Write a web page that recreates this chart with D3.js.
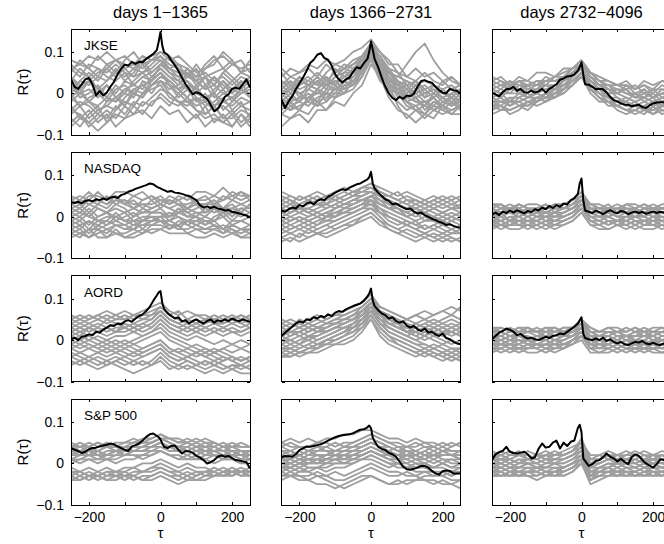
<!DOCTYPE html>
<html><head><meta charset="utf-8">
<script src="https://cdn.jsdelivr.net/npm/d3@7"></script>
<style>body{margin:0;background:#fff}text{font-family:"Liberation Sans",Arial,Helvetica,sans-serif;fill:#000}</style>
</head><body><svg id="c" width="664" height="544"></svg>
<script>
// ---------- data ----------
const indexNames = ["JKSE", "NASDAQ", "AORD", "S&P 500"];
const periodTitles = ["days 1\u22121365", "days 1366\u22122731", "days 2732\u22124096"];
const xTickMarks = [-200, -100, 0, 100, 200];
const xTickLabels = [-200, 0, 200];
const yTicks = [-0.1, 0, 0.1];
// lags of the black (real index) curves
const tauBlack = [-250,-240,-230,-220,-210,-200,-190,-180,-170,-160,-150,-140,-130,-120,-110,-100,-90,-80,-70,-60,-50,-40,-30,-20,-10,-5,0,5,10,20,30,40,50,60,70,80,90,100,110,120,130,140,150,160,170,180,190,200,210,220,230,240,250];
// lags of the grey (other indices) curves
const tauGray = [-250,-225,-200,-175,-150,-125,-100,-75,-50,-25,0,25,50,75,100,125,150,175,200,225,250];

const bJKSE1 = [0.034,0.016,0.011,0.022,0.034,0.037,0.022,-0.005,0.006,-0.005,0.002,0.016,0.028,0.046,0.059,0.069,0.067,0.076,0.071,0.076,0.075,0.083,0.089,0.095,0.105,0.125,0.148,0.115,0.099,0.093,0.079,0.068,0.054,0.038,0.022,0.010,-0.002,0.003,0.000,-0.007,-0.013,-0.027,-0.043,-0.037,-0.023,-0.008,-0.002,0.011,0.014,0.011,0.022,0.034,0.014];
const bJKSE2 = [-0.015,-0.035,-0.019,-0.007,0.010,0.024,0.038,0.054,0.073,0.081,0.093,0.097,0.085,0.081,0.067,0.046,0.034,0.026,0.034,0.038,0.052,0.063,0.060,0.073,0.083,0.100,0.125,0.105,0.083,0.063,0.038,0.016,0.000,-0.011,-0.016,-0.008,-0.013,-0.005,-0.007,0.000,0.016,0.030,0.032,0.028,0.026,0.016,0.008,0.002,0.000,0.011,0.008,0.006,0.000];
const bJKSE3 = [0.002,-0.002,-0.007,0.003,0.010,0.011,0.016,0.006,0.011,0.003,0.002,0.007,0.002,0.005,0.011,0.002,0.011,0.016,0.022,0.033,0.036,0.041,0.042,0.046,0.055,0.063,0.075,0.045,0.022,0.021,0.016,0.010,0.011,0.010,0.002,-0.008,-0.016,-0.019,-0.024,-0.027,-0.027,-0.031,-0.029,-0.027,-0.033,-0.035,-0.029,-0.024,-0.022,-0.021,-0.021,-0.020,-0.020];
const bNASDAQ1 = [0.035,0.033,0.036,0.032,0.038,0.040,0.037,0.042,0.040,0.044,0.041,0.046,0.048,0.045,0.052,0.055,0.060,0.063,0.067,0.070,0.073,0.076,0.080,0.078,0.072,0.070,0.068,0.066,0.064,0.060,0.062,0.058,0.057,0.055,0.052,0.050,0.045,0.040,0.028,0.022,0.025,0.021,0.024,0.020,0.018,0.015,0.016,0.012,0.010,0.008,0.005,0.003,-0.002];
const bNASDAQ2 = [0.015,0.012,0.018,0.022,0.020,0.028,0.025,0.032,0.035,0.030,0.038,0.042,0.040,0.048,0.052,0.058,0.062,0.066,0.064,0.070,0.074,0.078,0.080,0.085,0.090,0.095,0.108,0.080,0.068,0.058,0.050,0.042,0.038,0.030,0.032,0.026,0.022,0.018,0.020,0.012,0.008,0.010,0.004,0.000,-0.005,-0.008,-0.012,-0.015,-0.020,-0.018,-0.022,-0.025,-0.026];
const bNASDAQ3 = [0.005,0.010,0.004,0.012,0.009,0.015,0.010,0.016,0.012,0.008,0.014,0.011,0.018,0.015,0.022,0.018,0.026,0.021,0.028,0.024,0.032,0.029,0.040,0.045,0.055,0.080,0.092,0.040,0.015,0.012,0.009,0.015,0.011,0.006,0.012,0.016,0.011,0.008,0.014,0.012,0.006,0.010,0.013,0.009,0.012,0.007,0.010,0.013,0.009,0.012,0.010,0.007,0.008];
const bAORD1 = [0.002,0.006,0.000,0.008,0.010,0.014,0.012,0.020,0.018,0.025,0.030,0.036,0.034,0.040,0.038,0.045,0.048,0.044,0.052,0.058,0.062,0.070,0.080,0.095,0.108,0.115,0.118,0.090,0.075,0.065,0.058,0.052,0.055,0.045,0.048,0.040,0.046,0.050,0.044,0.040,0.046,0.050,0.042,0.048,0.045,0.050,0.046,0.052,0.048,0.045,0.050,0.047,0.044];
const bAORD2 = [0.010,0.018,0.025,0.032,0.040,0.045,0.042,0.050,0.048,0.055,0.052,0.058,0.055,0.062,0.058,0.066,0.070,0.068,0.074,0.078,0.082,0.085,0.088,0.095,0.105,0.112,0.124,0.095,0.082,0.072,0.064,0.060,0.052,0.055,0.046,0.042,0.045,0.035,0.030,0.034,0.026,0.022,0.028,0.018,0.020,0.014,0.010,0.016,0.005,0.002,-0.004,-0.008,-0.010];
const bAORD3 = [0.002,0.010,0.018,0.022,0.028,0.025,0.020,0.012,0.015,0.008,0.004,0.006,0.002,0.000,0.004,0.008,0.005,0.010,0.012,0.016,0.014,0.020,0.026,0.032,0.040,0.048,0.055,0.015,0.005,0.002,0.000,0.004,0.000,0.006,-0.002,0.002,-0.004,-0.008,-0.004,-0.010,-0.012,-0.008,-0.004,-0.006,-0.002,-0.008,-0.010,-0.006,-0.010,-0.012,-0.008,-0.010,-0.012];
const bSP1 = [0.037,0.033,0.030,0.025,0.028,0.034,0.037,0.038,0.041,0.043,0.045,0.048,0.046,0.041,0.037,0.033,0.030,0.041,0.044,0.048,0.055,0.064,0.070,0.072,0.066,0.063,0.058,0.048,0.040,0.037,0.042,0.043,0.033,0.024,0.030,0.029,0.026,0.018,0.014,0.008,0.000,0.003,0.008,0.016,0.019,0.016,0.018,0.013,0.008,0.007,0.005,0.003,-0.012];
const bSP2 = [0.015,0.018,0.017,0.016,0.022,0.032,0.036,0.041,0.040,0.042,0.044,0.046,0.050,0.055,0.059,0.063,0.066,0.068,0.069,0.070,0.073,0.077,0.081,0.082,0.087,0.091,0.085,0.062,0.053,0.040,0.035,0.032,0.025,0.022,0.016,0.004,-0.008,-0.014,-0.015,-0.013,-0.010,-0.006,-0.006,-0.010,-0.018,-0.024,-0.027,-0.019,-0.017,-0.018,-0.024,-0.024,-0.024];
const bSP3 = [0.008,0.022,0.027,0.030,0.040,0.028,0.025,0.024,0.026,0.028,0.022,0.012,0.015,0.035,0.048,0.038,0.040,0.050,0.055,0.036,0.050,0.042,0.052,0.055,0.086,0.093,0.075,0.012,0.006,-0.006,-0.002,0.006,0.008,0.015,0.024,0.016,0.012,0.005,0.011,0.004,-0.002,0.015,0.022,0.018,0.008,0.000,-0.005,-0.010,-0.002,0.010,0.008,0.010,0.006];

// grey curves, values in units of 0.01
const gJKSE1 = [
[6,7,9,8,10,8,7,6,8,9,10,8,9,7,5,6,8,9,7,6,7],[4,2,3,5,6,4,6,7,9,8,10,9,7,6,4,5,3,4,2,4,3],
[1,3,2,4,3,5,4,6,5,7,9,7,6,4,3,1,2,0,1,3,2],[-2,0,1,-1,2,0,3,2,4,5,7,6,4,3,1,-1,0,-2,-1,1,-1],
[-5,-3,-6,-4,-3,-1,-3,0,-1,2,4,3,1,-1,-3,-2,-4,-3,-5,-3,-2],[-7,-5,-8,-6,-4,-6,-3,-5,-2,-3,0,-2,-3,-1,-4,-6,-5,-7,-5,-8,-6],
[2,0,3,1,-1,2,0,3,5,3,7,5,3,6,4,7,9,6,8,5,4],[7,5,4,6,4,3,5,2,4,3,5,2,1,3,0,2,-1,1,-2,0,1],
[-3,-6,-4,-7,-5,-8,-6,-3,-5,-2,-1,-3,0,2,1,4,2,5,3,1,3],[0,3,5,3,6,8,9,7,6,8,8,5,4,6,3,1,4,2,0,3,-1],
[-1,1,-2,0,2,-1,1,0,-1,2,3,1,2,4,3,6,7,10,8,5,8],[4,1,3,0,2,-1,-2,-3,0,2,3,0,-2,-3,-1,-5,-3,-6,-4,-7,-5],
[-6,-8,-5,-3,-7,-4,-2,-3,0,1,2,-1,-2,-4,-6,-3,-7,-5,-8,-5,-8],[8,7,6,4,7,5,8,10,7,8,9,6,7,4,6,2,4,1,3,5,6],
[0,-3,-2,-4,-3,-4,-1,1,0,3,5,3,1,2,-1,-2,0,-4,-2,1,0],[3,6,4,1,3,6,3,5,8,5,7,9,6,4,7,4,2,5,7,8,5],
[-4,-2,-3,-5,-2,-1,-3,1,2,0,3,2,-1,1,-2,0,-3,-1,-4,-2,-6],[-8,-6,-7,-9,-7,-5,-6,-5,-4,-6,-3,-5,-4,-7,-5,-8,-6,-7,-8,-5,-7],
[5,8,6,9,7,8,6,4,7,4,6,4,2,5,2,4,0,3,1,0,2],[2,-1,0,2,-1,-2,0,-1,3,2,4,3,1,-1,2,-2,1,3,0,2,3],
[-4,-5,-7,-5,-6,-3,-5,-2,-3,-1,1,0,-2,-2,-4,-5,-3,-6,-6,-4,-5],[1,0,-2,-3,-1,-2,1,2,1,4,6,4,3,1,0,-1,-3,-2,-3,-1,-2],
[6,4,7,6,5,7,5,4,5,6,8,6,5,5,3,4,5,6,4,2,4],[-1,-3,-1,0,-2,1,2,0,2,3,5,2,0,-2,-1,-3,-2,0,-1,-3,-4]];
const gJKSE2 = [
[4,6,5,7,6,8,7,8,10,11,13,10,8,5,4,3,5,3,2,4,2],[2,0,3,4,2,5,7,6,8,9,12,9,6,5,2,3,1,2,0,1,2],
[0,2,-1,2,4,2,4,6,5,8,11,7,5,2,1,-1,0,1,-1,-2,0],[-2,0,-2,1,0,2,3,3,5,6,10,6,4,0,1,-2,-2,-3,-1,-3,-2],
[-4,-2,-4,-1,-3,0,-1,2,3,5,9,6,2,1,-2,-4,-3,-4,-3,-5,-3],[-5,-6,-4,-5,-2,-4,-1,0,1,4,8,3,1,-2,-4,-3,-5,-3,-4,-5,-5],
[-8,-6,-5,-7,-4,-4,-2,-3,0,2,7,4,-1,-4,-5,-7,-5,-6,-3,-4,-3],[6,4,5,6,4,7,5,6,7,8,12,10,7,7,4,6,4,5,3,4,2],
[1,3,1,2,1,4,2,4,6,7,10,7,3,3,-1,1,-1,2,0,-1,1],[-1,1,0,-2,1,0,3,1,4,7,11,8,4,1,2,-1,-3,0,-2,-1,-4],
[3,1,4,2,4,2,6,4,5,9,12,7,6,2,3,1,2,0,3,1,2],[-3,-1,-2,-3,-1,0,0,3,2,6,9,5,3,2,-2,-1,-4,-2,-3,-1,-3],
[0,-2,-1,-1,1,-2,2,0,3,5,10,6,1,0,-3,-4,-6,-4,-5,-4,-3],[2,4,3,2,3,4,2,5,5,7,10,8,5,4,7,10,12,8,5,3,2],
[-5,-3,-4,-1,-2,1,1,3,4,6,10,5,2,-3,-6,-4,-5,-2,-3,0,-2],[5,2,4,3,2,2,1,3,5,6,11,6,5,3,1,3,0,1,0,1,-1],
[-2,-4,-1,-1,0,0,-1,2,2,5,9,4,3,-1,-1,-2,-3,-1,-4,-2,-4],[1,-1,2,3,5,3,5,7,6,8,11,9,5,4,3,2,3,2,1,2,0],
[3,2,0,1,3,1,4,5,7,9,12,8,6,3,2,0,1,-1,1,-1,1],[-1,-3,-2,0,-2,-1,1,1,2,4,9,5,2,0,-2,-3,-2,-4,-2,-3,-1],
[-3,-4,-3,-2,-3,-2,0,0,3,5,10,6,2,1,-1,0,-2,-1,-3,-1,-2],[0,1,3,2,1,3,2,4,3,6,11,7,4,2,0,2,-1,0,-1,0,1]];
const gJKSE3 = [
[3,4,2,4,3,5,5,4,6,6,8,5,4,3,2,3,1,3,2,3,2],[1,2,1,3,3,2,4,3,4,6,7,4,3,1,0,2,0,1,-1,1,0],
[0,-1,1,1,-1,1,2,1,3,5,6,3,1,1,-1,-2,0,-2,-1,-3,-1],[-2,-1,-3,-1,0,-2,0,1,1,4,6,2,1,-1,-2,-3,-2,-4,-2,-3,-2],
[-3,-4,-2,-2,-3,-1,-2,0,1,3,5,1,-1,-3,-3,-4,-3,-4,-5,-3,-3],[-4,-3,-5,-4,-2,-3,-2,-1,0,2,4,0,-2,-2,-4,-5,-4,-5,-3,-5,-4],
[2,1,3,1,2,3,2,4,4,5,7,4,2,2,1,0,-1,1,-1,0,1],[-1,0,-2,0,-1,0,1,1,3,4,6,3,2,0,0,-1,-2,-1,1,-1,-2],
[4,3,2,3,1,1,3,3,4,6,8,5,3,2,2,2,1,2,1,3,3],[-2,-3,-1,-3,-2,-1,-2,0,2,3,5,2,0,-1,-3,-2,-3,-2,-3,-2,-4],
[1,0,2,0,1,2,2,1,3,5,7,4,2,2,0,1,-1,-1,-2,-1,0],[-3,-2,-2,-2,-1,0,-1,1,2,4,6,3,1,-1,-1,-3,-3,-3,-2,-4,-4],
[3,2,3,2,2,2,3,3,3,5,7,5,3,3,2,1,2,0,1,1,1],[-5,-4,-4,-3,-4,-2,-1,-1,1,3,5,1,-1,-2,-3,-4,-4,-3,-5,-4,-5],
[2,3,1,3,2,3,3,4,5,6,7,5,4,3,2,2,1,2,0,2,1],[-1,-2,-3,-2,-1,-1,0,0,1,3,5,2,0,-1,-2,-1,-2,-1,-2,-2,-3],
[0,1,0,2,1,1,1,2,2,4,6,3,1,0,1,0,0,-1,0,-2,-1],[-2,-2,-1,-1,-2,-2,0,-1,1,2,5,1,-1,-2,-2,-2,-3,-3,-4,-3,-2],
[1,0,0,0,2,0,2,2,3,5,7,4,2,1,1,1,-1,0,-1,0,-1],[-3,-3,-4,-3,-3,-2,-1,0,0,2,4,1,0,-2,-3,-4,-5,-4,-4,-3,-4]];
const gNASDAQ1 = [
[4,5,4,6,4,5,3,5,6,4,5,3,5,4,6,6,5,7,5,6,4],[3,2,4,3,5,3,4,2,4,5,4,3,4,2,4,5,3,5,4,6,5],
[2,3,1,3,2,4,3,2,3,2,3,2,3,1,2,3,4,2,4,3,4],[5,4,6,4,3,5,3,4,2,4,2,4,3,2,3,1,3,2,3,1,3],
[1,2,0,2,1,3,2,0,2,1,2,0,2,1,0,2,1,2,0,2,2],[-1,0,-2,0,1,-1,0,1,-1,1,1,-1,1,0,0,-2,0,1,-1,1,0],
[-2,-1,-3,-1,-2,0,-1,-2,-1,0,-1,-1,0,-2,-1,-2,-1,-3,-1,-1,-2],[-3,-2,-4,-2,-3,-2,-3,-3,-2,-1,-1,-3,-1,-2,-3,-3,-2,-4,-2,-3,-3],
[-4,-3,-5,-4,-3,-4,-4,-3,-4,-2,-2,-3,-2,-4,-3,-4,-3,-4,-3,-5,-4],[-5,-4,-5,-3,-5,-4,-5,-5,-4,-3,-3,-4,-4,-4,-5,-5,-4,-5,-4,-5,-5],
[0,-1,1,-1,-1,1,-1,0,1,1,1,0,2,0,1,0,2,0,1,2,1],[-2,-3,-1,-3,-2,-1,-2,-1,-3,-1,0,-2,-2,-1,-2,-1,-2,-3,-2,-3,-2],
[1,0,2,0,1,0,1,-1,-1,0,-1,-1,-2,-1,-2,-3,-2,-3,-4,-3,-4],[-4,-5,-3,-3,-4,-2,-2,-3,-1,-1,0,0,1,2,3,3,3,4,5,4,5],
[4,3,5,5,4,6,6,5,4,5,3,5,4,5,3,3,4,2,2,3,2],[-3,-4,-3,-5,-5,-3,-5,-4,-3,-4,-3,-2,-3,-1,-1,0,-1,1,1,0,1],
[3,4,3,4,3,4,4,3,3,3,4,4,3,3,4,4,5,4,6,5,5],[2,1,3,2,1,2,1,2,1,2,3,2,1,2,1,1,2,1,2,1,3],
[-1,-2,-1,-2,-1,-2,-3,-2,-2,-2,-1,-2,-3,-3,-2,-3,-3,-2,-3,-4,-3],[0,1,0,-1,0,0,-1,-1,0,0,0,1,0,-1,0,-1,-1,0,-2,-1,0]];
const gNASDAQ2 = [
[4,5,4,5,6,5,6,7,6,7,8,7,6,5,6,5,4,5,4,5,4],[2,3,2,3,4,5,4,5,6,6,7,6,5,4,3,4,3,2,3,2,3],
[1,0,1,2,1,2,3,4,5,5,6,5,3,2,1,2,1,0,1,0,1],[-1,0,-1,0,1,0,2,3,3,4,5,3,2,1,0,-1,0,-1,-2,-1,-2],
[-3,-2,-3,-2,-1,0,1,1,2,3,4,2,0,-1,-2,-3,-2,-3,-4,-3,-4],[-5,-4,-5,-3,-4,-3,-2,-1,0,1,2,0,-2,-3,-4,-5,-4,-5,-6,-5,-6],
[-6,-5,-6,-5,-4,-5,-4,-3,-2,-1,0,-2,-3,-4,-5,-6,-5,-6,-5,-6,-5],[3,2,3,4,3,4,5,4,5,6,6,5,4,3,4,3,4,3,4,3,4],
[0,1,2,1,2,3,2,3,4,4,5,4,3,2,1,0,1,0,-1,0,-1],[-2,-1,0,-1,0,-1,0,1,2,3,3,2,1,0,-1,-2,-3,-2,-3,-4,-3],
[5,4,3,4,3,2,3,2,3,4,4,3,2,3,2,3,2,3,2,3,2],[-4,-3,-2,-3,-2,-1,-1,0,1,2,3,1,-1,-2,-1,-2,-1,0,-1,0,-1],
[1,2,1,0,1,0,1,2,3,4,5,6,5,4,5,4,3,4,5,4,5],[-1,-2,-1,-2,-3,-2,-1,0,1,2,2,1,0,-1,-2,-3,-4,-5,-4,-5,-6],
[2,1,2,1,0,1,2,3,4,5,6,4,2,1,0,1,2,1,0,1,0],[-3,-4,-3,-4,-3,-2,-3,-2,-1,0,1,-1,-2,-3,-2,-3,-4,-3,-2,-3,-2],
[6,5,4,5,4,5,4,5,6,7,8,6,5,4,3,2,3,2,1,2,1],[4,3,5,4,5,3,5,6,5,7,7,5,5,6,4,4,3,4,3,4,2],
[-2,-3,-2,-1,-2,0,0,1,1,2,4,1,0,-1,-2,-1,-3,-2,-1,-2,-3],[0,-1,0,-1,0,1,0,2,2,3,5,3,2,2,0,1,-1,-1,0,-1,0],
[-5,-6,-4,-5,-4,-4,-3,-2,-2,0,1,-1,-3,-4,-3,-4,-5,-4,-5,-4,-4],[3,4,2,2,3,3,4,3,4,5,6,5,3,3,2,2,1,2,1,2,2]];
const gNASDAQ3 = [
[2,3,1,3,2,2,3,1,3,4,6,3,2,3,1,3,2,3,2,2,3],[1,2,2,1,1,2,1,2,2,3,5,2,1,1,2,1,2,1,1,2,1],
[0,1,-1,1,0,1,1,0,1,2,4,1,0,1,0,0,1,0,1,0,0],[-1,0,-1,-1,0,-1,0,-1,0,1,3,0,-1,0,-1,0,-1,-1,0,-1,-1],
[-2,-1,-2,-1,-2,-2,-1,-2,-1,0,2,-1,-2,-1,-2,-1,-2,-1,-2,-2,-1],[-3,-2,-3,-3,-2,-3,-2,-3,-2,-1,1,-2,-3,-3,-2,-3,-2,-3,-3,-2,-3],
[2,1,2,2,1,2,2,3,2,3,5,2,1,0,1,1,0,1,0,1,1],[-1,-2,-1,-2,-1,-1,-2,-1,0,1,2,0,0,-1,-1,-2,-1,-2,-1,-2,-2],
[1,0,1,1,0,1,0,1,1,2,4,1,1,0,1,2,1,2,2,1,2],[0,-1,0,-1,-1,0,-1,0,0,1,3,0,-1,-2,-1,-1,0,-1,0,-1,0],
[3,2,3,2,3,3,2,3,3,4,5,3,2,2,3,2,2,3,2,3,3],[-2,-3,-2,-2,-3,-2,-3,-2,-1,0,2,-1,-2,-3,-2,-2,-3,-2,-2,-3,-2],
[1,2,1,0,1,0,1,1,2,2,4,2,2,1,0,1,1,0,1,1,0],[-1,-1,0,0,-1,-1,0,0,1,2,3,1,0,1,0,-1,0,0,-1,0,-1],
[2,1,2,3,2,1,2,2,2,3,5,2,2,1,2,2,1,2,1,1,2],[0,0,-1,0,1,0,0,1,0,1,3,1,0,0,-1,0,0,1,0,0,-1],
[-1,-2,-2,-1,-1,-2,-1,-1,-1,0,2,-1,-1,-2,-1,-1,-2,-1,-1,-1,-2],[1,1,2,1,2,1,1,2,2,3,4,1,1,2,2,1,2,1,2,2,1],
[-2,-2,-1,-2,-2,-1,-2,-2,-2,-1,1,-2,-2,-1,-2,-2,-1,-2,-2,-1,-2],[3,3,2,3,2,2,3,2,2,3,4,3,3,2,2,3,3,2,3,2,2]];
const gAORD1 = [
[5,6,5,6,7,6,7,6,7,8,9,7,6,7,6,5,6,5,6,5,6],[4,5,4,5,4,5,5,6,5,6,8,6,5,4,5,4,5,4,5,4,5],
[3,4,3,4,3,4,4,3,4,5,7,5,4,3,4,3,4,3,4,3,4],[2,3,2,3,2,3,3,4,3,4,6,4,3,2,3,2,3,2,3,2,3],
[6,5,6,5,6,5,6,5,6,6,7,5,4,5,4,5,4,5,4,5,4],[1,2,1,2,1,2,2,3,2,3,5,3,2,1,2,1,2,1,2,1,2],
[0,-1,0,-1,-2,-1,-2,-1,-2,-1,0,-2,-3,-2,-3,-4,-3,-4,-5,-4,-5],[-2,-3,-2,-3,-2,-3,-4,-3,-4,-3,-2,-4,-5,-4,-5,-6,-5,-6,-7,-6,-7],
[-3,-4,-5,-4,-5,-4,-5,-6,-5,-6,-4,-6,-7,-6,-7,-8,-7,-8,-7,-8,-8],[-1,0,-1,-2,-1,-2,-1,-2,-3,-2,-1,-3,-4,-5,-6,-5,-6,-7,-6,-7,-6],
[-4,-3,-4,-3,-4,-3,-2,-3,-2,-1,0,-2,-3,-4,-3,-4,-5,-4,-5,-6,-5],[-5,-6,-5,-6,-5,-6,-7,-8,-7,-6,-5,-7,-6,-7,-6,-5,-6,-5,-4,-5,-4],
[-6,-5,-6,-7,-6,-5,-4,-5,-4,-3,-2,-4,-5,-4,-3,-2,-3,-2,-3,-2,-3],[1,0,1,0,-1,0,-1,0,1,2,3,1,0,-1,-2,-3,-2,-3,-4,-5,-4],
[3,2,3,2,3,2,3,2,3,4,6,4,3,4,3,4,5,4,5,6,5],[-2,-1,-2,-1,0,-1,0,-1,0,1,2,0,-1,-2,-1,-2,-3,-2,-1,-2,-1],
[5,4,5,6,5,6,5,6,6,7,8,6,7,5,6,6,5,6,5,6,5],[2,1,3,2,3,2,4,3,4,3,5,3,2,3,2,3,2,3,2,2,3],
[-1,-2,-1,-2,-3,-2,-3,-4,-3,-2,-1,-3,-2,-3,-4,-3,-4,-5,-4,-5,-4],[-4,-5,-4,-5,-6,-5,-6,-5,-6,-5,-3,-5,-6,-5,-6,-7,-6,-7,-6,-6,-7],
[0,1,0,1,0,1,1,2,1,2,4,2,1,0,1,0,-1,0,-1,0,-1],[4,3,4,3,5,4,3,4,5,5,7,5,4,5,4,5,4,4,5,4,3]];
const gAORD2 = [
[4,5,4,5,6,5,6,7,8,9,11,8,7,6,5,6,5,6,7,8,7],[3,2,3,4,3,4,5,6,7,8,10,7,6,5,4,3,4,3,4,3,4],
[1,2,1,2,3,3,4,5,6,7,9,6,5,4,3,2,3,2,1,2,1],[0,-1,0,1,1,2,3,4,5,6,8,5,4,3,2,1,0,1,0,-1,0],
[-2,-1,-2,-1,0,1,2,3,4,5,7,4,2,1,0,-1,-2,-1,-2,-3,-2],[-3,-4,-3,-2,-1,0,1,2,3,4,6,3,1,0,-1,-2,-3,-4,-3,-4,-5],
[-4,-3,-4,-3,-2,-1,-1,0,1,3,5,2,0,-1,-2,-3,-4,-3,-4,-5,-4],[2,3,4,3,4,5,6,6,7,8,10,8,7,6,5,4,5,4,3,4,3],
[-1,0,1,0,1,2,3,3,4,6,8,5,3,2,1,0,-1,-2,-1,-2,-3],[5,4,3,4,3,4,4,5,6,7,9,6,4,3,2,1,2,1,2,1,2],
[-2,-3,-2,-1,-2,0,1,2,3,5,7,4,3,2,1,2,1,2,1,0,-1],[1,0,-1,0,-1,0,1,2,4,5,7,5,4,3,2,3,2,3,2,3,2],
[0,1,2,1,2,3,4,4,5,6,9,6,5,4,5,6,7,6,7,6,8],[-3,-2,-1,-2,-1,-1,0,1,2,4,6,3,1,-1,-2,-3,-2,-3,-4,-3,-4],
[3,4,3,2,3,2,3,4,5,7,9,6,5,4,3,4,3,4,5,6,5],[-1,-2,-3,-2,-1,0,0,1,3,4,7,4,2,1,0,-1,-1,-2,-3,-2,-2],
[2,1,2,3,2,3,4,5,5,7,9,6,4,4,2,2,1,3,2,2,1],[-2,-2,-3,-2,-2,-1,0,1,2,3,6,3,1,0,-1,-2,-3,-2,-3,-4,-3],
[4,3,5,4,5,4,5,5,6,8,10,7,6,4,4,3,4,5,4,5,4],[0,0,-1,1,0,1,2,3,3,5,8,5,3,2,1,0,1,0,-1,0,-1],
[-4,-4,-3,-3,-3,-2,-1,-1,0,2,5,1,-1,-2,-3,-4,-3,-4,-5,-4,-5],[1,2,2,3,2,2,3,4,5,6,8,6,4,3,3,4,3,2,3,2,3]];
const gAORD3 = [
[2,3,2,3,2,2,3,2,3,3,5,2,2,3,2,2,3,2,2,3,2],[1,2,1,1,2,1,2,1,2,3,4,1,1,2,1,1,2,1,2,1,1],
[0,1,0,1,0,0,1,0,1,2,3,0,0,1,0,1,0,0,1,0,0],[-1,0,-1,0,-1,-1,0,-1,0,1,2,-1,-1,0,-1,0,-1,-1,0,-1,-1],
[-2,-1,-2,-2,-1,-2,-1,-2,-1,0,1,-2,-2,-1,-2,-1,-2,-2,-1,-2,-2],[-3,-2,-3,-2,-3,-3,-2,-3,-2,-1,0,-3,-3,-2,-3,-2,-3,-2,-3,-3,-3],
[2,1,2,2,3,2,2,3,2,3,4,2,1,1,2,1,1,2,1,2,2],[0,-1,0,-1,0,-1,-1,0,0,1,3,0,-1,-1,0,-1,-1,0,-1,0,-1],
[1,1,0,1,1,0,1,1,2,2,4,1,0,0,1,0,1,1,0,1,1],[-1,-2,-1,-1,-2,-1,-2,-1,-1,0,2,-1,-2,-2,-1,-2,-1,-2,-2,-1,-2],
[3,2,3,2,2,3,2,2,3,3,5,3,2,2,2,3,2,3,2,2,3],[-2,-3,-2,-3,-2,-2,-3,-2,-2,-1,1,-2,-3,-3,-2,-3,-2,-3,-2,-3,-2],
[0,0,1,0,0,1,0,1,1,1,3,1,0,0,-1,0,0,-1,0,0,0],[-1,-1,-2,-1,0,-1,-1,0,-1,0,2,0,-1,-1,-2,-1,0,-1,-1,-2,-1],
[2,2,1,2,3,2,1,2,2,2,4,2,1,2,2,1,2,2,1,2,1],[0,-1,0,0,-1,0,0,-1,0,1,2,-1,0,-1,0,-1,0,-1,-1,0,-1],
[-2,-2,-1,-2,-2,-1,-2,-2,-1,-1,1,-2,-1,-2,-1,-2,-2,-1,-2,-2,-1],[1,0,1,1,0,1,1,0,1,2,3,0,1,1,0,1,0,1,1,0,1],
[-1,-1,-1,-2,-1,-2,-1,-1,-2,0,1,-1,-2,-1,-2,-1,-1,-2,-1,-2,-2],[3,3,2,3,3,2,3,3,2,3,4,3,2,3,3,2,3,2,3,3,2]];
const gSP1 = [
[4,5,4,5,4,5,5,6,5,6,7,6,5,6,5,6,5,4,5,4,4],[3,4,3,4,4,3,4,4,5,5,6,5,4,5,4,5,4,5,4,3,3],
[2,3,3,2,3,3,4,3,4,4,5,4,4,3,4,3,4,3,3,2,3],[1,2,2,1,2,2,3,3,3,3,4,3,3,2,3,2,3,2,2,1,2],
[0,1,1,0,1,1,2,2,2,3,3,2,2,1,2,1,2,1,1,0,1],[3,2,3,3,2,3,2,3,3,4,5,4,3,4,3,4,3,4,3,3,2],
[5,4,5,4,5,4,4,5,6,6,7,6,6,5,6,5,5,4,4,5,4],[1,1,2,2,1,2,2,2,1,2,3,2,1,2,1,2,2,1,2,1,1],
[-1,-2,-1,-2,-1,-2,-1,-1,0,0,1,0,-1,0,-1,-1,-2,-1,-2,-1,-2],[-3,-2,-3,-2,-3,-2,-2,-3,-2,-1,-1,-2,-3,-2,-3,-2,-2,-3,-2,-2,-2],
[-4,-3,-4,-3,-4,-4,-3,-4,-3,-3,-2,-3,-4,-3,-4,-3,-3,-2,-3,-2,-3],[-2,-3,-2,-3,-2,-3,-4,-3,-4,-4,-3,-4,-5,-4,-3,-2,-1,-2,-1,-2,-1],
[-3,-4,-3,-4,-3,-3,-2,-1,-2,-1,0,-1,-2,-1,-2,-3,-2,-3,-2,-3,-2],[2,3,2,3,2,3,3,4,4,5,6,5,4,3,4,3,3,2,3,2,2],
[4,3,4,3,4,4,3,4,4,5,6,6,5,5,4,4,5,4,4,3,3],[3,3,2,3,4,3,3,3,3,4,5,4,3,4,3,3,3,3,2,3,2],
[2,2,3,2,2,3,2,3,3,4,4,3,3,3,2,3,2,2,2,2,1],[4,4,4,5,4,4,5,5,5,5,6,5,4,4,5,4,4,3,4,4,4],
[1,0,1,1,1,0,1,1,2,2,3,2,1,1,1,1,0,1,1,0,0],[-2,-2,-3,-3,-2,-2,-3,-2,-2,-2,-1,-2,-2,-3,-2,-2,-3,-2,-2,-3,-3],
[-4,-4,-3,-3,-4,-3,-3,-3,-4,-3,-2,-3,-3,-4,-4,-4,-3,-3,-3,-2,-3]];
const gSP2 = [
[5,6,5,6,5,6,6,7,7,8,8,7,6,6,5,6,5,5,4,5,4],[4,3,4,3,4,4,5,4,5,6,7,6,5,5,4,4,5,4,5,4,5],
[2,3,2,3,3,4,3,4,4,5,6,5,4,3,3,2,3,2,3,2,3],[1,2,1,2,2,2,3,3,3,4,5,4,3,2,2,1,1,2,1,1,0],
[0,1,0,1,1,1,2,2,2,3,4,3,2,1,1,0,0,-1,0,-1,-1],[-1,0,-1,0,0,0,1,1,1,2,3,2,1,0,0,-1,-1,-2,-2,-3,-2],
[-2,-1,-2,-1,-1,-1,0,0,0,1,2,1,0,-1,-1,-2,-2,-3,-3,-4,-4],[-3,-2,-3,-3,-2,-3,-2,-3,-2,-1,0,-1,-2,-2,-3,-3,-4,-4,-5,-5,-4],
[-4,-3,-4,-4,-5,-5,-6,-5,-4,-3,-3,-4,-5,-4,-5,-4,-4,-5,-4,-5,-6],[3,2,3,2,3,3,2,3,3,4,5,4,3,4,3,3,4,3,4,3,3],
[1,0,1,0,0,1,1,2,1,2,3,2,2,1,2,1,2,1,2,2,1],[-1,-2,-1,-2,-1,-2,-1,-1,0,1,1,0,-1,0,-1,-1,0,-1,0,-1,0],
[2,1,2,1,2,1,2,2,3,3,4,3,3,2,3,2,3,4,3,4,5],[-2,-3,-3,-4,-3,-4,-5,-6,-5,-4,-3,-4,-5,-5,-4,-4,-3,-3,-2,-3,-2],
[0,-1,0,0,1,0,1,0,1,2,3,2,1,1,0,1,0,1,0,1,1],[5,4,4,3,4,3,3,4,4,5,6,5,4,3,4,3,2,3,2,2,1],
[3,3,2,3,2,2,3,3,4,4,5,4,4,3,2,3,2,2,3,2,2],[1,1,2,1,1,2,2,1,2,3,4,3,2,2,1,2,1,0,1,0,0],
[-1,-1,0,-1,-1,0,0,0,1,1,2,1,0,0,-1,0,-1,-1,-1,-2,-1],[4,5,4,4,5,5,4,5,5,6,7,6,5,4,4,5,4,4,3,3,3],
[-3,-3,-2,-2,-3,-3,-4,-4,-3,-2,-1,-2,-3,-3,-2,-3,-2,-2,-3,-2,-2],[0,0,1,1,0,1,1,1,2,2,3,2,1,1,2,2,1,2,2,2,2]];
const gSP3 = [
[3,2,3,2,3,2,3,2,3,4,5,2,2,3,2,3,2,3,2,3,2],[2,2,1,2,2,1,2,2,2,3,5,1,1,2,1,2,2,1,2,2,1],
[1,1,0,1,1,0,1,1,1,2,4,0,0,1,0,1,1,0,1,1,0],[0,0,-1,0,0,-1,0,0,0,1,3,-1,-1,0,-1,0,0,-1,0,0,-1],
[-1,-1,-2,-1,-1,-2,-1,-1,-1,0,2,-2,-2,-1,-2,-1,-1,-2,-1,-1,-2],[-2,-2,-3,-2,-2,-3,-2,-2,-2,-1,1,-4,-3,-2,-3,-2,-2,-3,-2,-2,-3],
[-3,-3,-2,-3,-3,-4,-3,-3,-3,-2,0,-5,-4,-3,-3,-3,-3,-2,-3,-3,-2],[2,3,2,3,1,2,2,3,2,3,6,1,2,1,2,2,3,2,1,2,2],
[1,0,1,0,1,1,0,1,1,2,4,-1,0,1,1,0,1,0,1,0,1],[-1,0,-1,-1,0,-1,-1,0,0,1,2,-3,-1,-1,0,-1,-1,0,-1,-1,0],
[-2,-3,-2,-3,-2,-2,-3,-2,-1,0,1,-4,-2,-2,-1,-2,-3,-2,-2,-3,-2],[0,1,0,1,0,0,1,0,1,2,3,-2,-1,0,0,1,0,1,0,1,0],
[-3,-2,-3,-2,-3,-3,-2,-3,-2,-1,0,-3,-3,-3,-2,-3,-2,-3,-3,-2,-3],[1,2,1,2,2,1,2,1,2,3,4,0,1,2,1,1,2,1,1,2,1],
[2,1,2,2,1,2,1,2,2,3,5,1,1,2,2,1,1,2,2,1,2],[0,-1,0,-1,0,0,-1,0,-1,0,2,-2,-1,-1,0,0,-1,0,0,-1,0],
[-2,-1,-2,-2,-1,-1,-2,-2,-1,0,1,-3,-2,-2,-2,-1,-2,-1,-2,-2,-1],[1,1,1,0,1,2,1,1,1,2,3,0,0,1,1,1,0,1,1,0,1],
[-3,-3,-3,-3,-2,-2,-3,-2,-3,-2,0,-4,-3,-2,-3,-2,-3,-3,-2,-3,-2],[-1,-2,-1,-2,-2,-1,-2,-1,-2,-1,1,-3,-2,-1,-2,-2,-2,-1,-1,-2,-1]];

// panel table (row = index, column = period)
const panels = [
  {row:0,col:0,black:bJKSE1,gray:gJKSE1},{row:0,col:1,black:bJKSE2,gray:gJKSE2},{row:0,col:2,black:bJKSE3,gray:gJKSE3},
  {row:1,col:0,black:bNASDAQ1,gray:gNASDAQ1},{row:1,col:1,black:bNASDAQ2,gray:gNASDAQ2},{row:1,col:2,black:bNASDAQ3,gray:gNASDAQ3},
  {row:2,col:0,black:bAORD1,gray:gAORD1},{row:2,col:1,black:bAORD2,gray:gAORD2},{row:2,col:2,black:bAORD3,gray:gAORD3},
  {row:3,col:0,black:bSP1,gray:gSP1},{row:3,col:1,black:bSP2,gray:gSP2},{row:3,col:2,black:bSP3,gray:gSP3}
];

// ---------- layout ----------
const W = 179, H = 106;
const colX = [71, 281.5, 492];
const rowY = [29, 152.3, 275.7, 399];
const svg = d3.select("#c");
const x = d3.scaleLinear().domain([-250, 250]).range([0, W]);
const y = d3.scaleLinear().domain([-0.1, 0.155]).range([H, 0]);
const fmt = v => v === 0 ? "0" : (v < 0 ? "\u2212" : "") + String(Math.abs(v));
const line = d3.line().defined(d => d[1] != null && !isNaN(d[1]));

panels.forEach((p, i) => {
  const g = svg.append("g").attr("transform", `translate(${colX[p.col]},${rowY[p.row]})`);
  const cid = "clip" + i;
  g.append("clipPath").attr("id", cid).append("rect").attr("width", W).attr("height", H);
  const plot = g.append("g").attr("clip-path", `url(#${cid})`);
  p.gray.forEach(arr => {
    plot.append("path")
      .attr("d", line(tauGray.map((t, k) => [x(t), arr[k] == null ? null : y(arr[k] / 100)])))
      .attr("fill", "none").attr("stroke", "#9e9e9e").attr("stroke-width", 1.8)
      .attr("stroke-linejoin", "round");
  });
  plot.append("path")
    .attr("d", line(tauBlack.map((t, k) => [x(t), p.black[k] == null ? null : y(p.black[k])])))
    .attr("fill", "none").attr("stroke", "#000").attr("stroke-width", 2)
    .attr("stroke-linejoin", "round");

  // axes: ticks pointing inward on all four sides
  const bottom = d3.axisBottom(x).tickValues(xTickMarks).tickSizeInner(-3).tickSizeOuter(0).tickPadding(7)
    .tickFormat(v => (p.row === 3 && xTickLabels.includes(v)) ? fmt(v) : "");
  const top = d3.axisTop(x).tickValues(xTickMarks).tickSizeInner(-3).tickSizeOuter(0).tickFormat("");
  const left = d3.axisLeft(y).tickValues(yTicks).tickSizeInner(-3).tickSizeOuter(0).tickPadding(7)
    .tickFormat(v => p.col === 0 ? fmt(v) : "");
  const right = d3.axisRight(y).tickValues(yTicks).tickSizeInner(-3).tickSizeOuter(0).tickFormat("");
  const axB = g.append("g").attr("transform", `translate(0,${H})`).call(bottom);
  const axT = g.append("g").call(top);
  const axL = g.append("g").call(left);
  const axR = g.append("g").attr("transform", `translate(${W},0)`).call(right);
  [axB, axT, axL, axR].forEach(a => {
    a.select(".domain").remove();
    a.selectAll("line").attr("stroke", "#000").attr("shape-rendering", "crispEdges");
    a.selectAll("text").attr("font-size", 14).attr("font-family", '"Liberation Sans", Arial, sans-serif').attr("fill", "#000");
  });
  g.append("rect").attr("width", W).attr("height", H).attr("fill", "none")
    .attr("stroke", "#000").attr("stroke-width", 1).attr("shape-rendering", "crispEdges");

  if (p.col === 0) {
    g.append("text").attr("x", 13).attr("y", 21).attr("font-size", 13.5).text(indexNames[p.row]);
    g.append("text").attr("transform", `translate(-43,${H / 2}) rotate(-90)`)
      .attr("text-anchor", "middle").attr("font-size", 15).text("R(\u03c4)");
  }
  if (p.row === 0) {
    g.append("text").attr("x", W / 2).attr("y", -11).attr("text-anchor", "middle")
      .attr("font-size", 16.5).text(periodTitles[p.col]);
  }
  if (p.row === 3) {
    g.append("text").attr("x", W / 2).attr("y", H + 33).attr("text-anchor", "middle")
      .attr("font-size", 15).text("\u03c4");
  }
});
</script></body></html>
